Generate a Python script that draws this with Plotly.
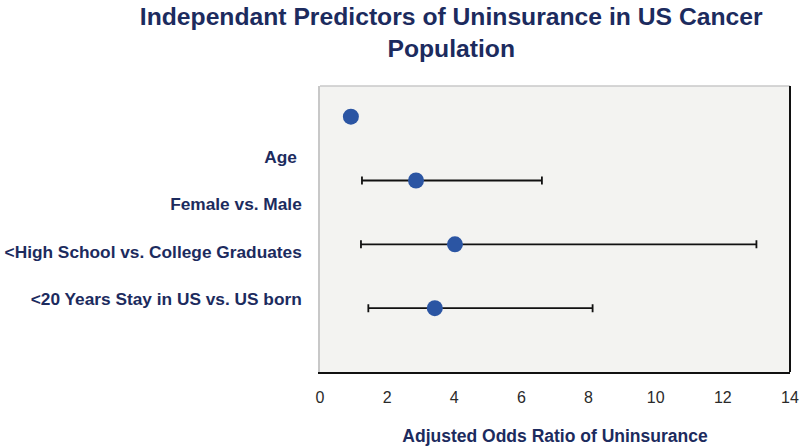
import plotly.graph_objects as go

# ---- data ----
categories = ["Age\u00a0", "Female vs. Male", "<High School vs. College Graduates",
              "<20 Years Stay in US vs. US born"]
odds_ratio = [0.92, 2.86, 4.02, 3.42]
ci_lower = [0.92, 1.25, 1.22, 1.44]
ci_upper = [0.92, 6.61, 13.0, 8.12]
x_ticks = [0, 2, 4, 6, 8, 10, 12, 14]

NAVY = "#1c2b5e"
BLUE = "#2b55a3"
FONT = "Liberation Sans, Arial, Helvetica, sans-serif"

positions = list(range(len(categories)))
# category labels sit on their own evenly spaced rows (as in the original figure)
LABEL_OFFSET, LABEL_STEP = 0.63, 0.742
label_positions = [LABEL_OFFSET + LABEL_STEP * i for i in positions]

err_plus = [u - e for u, e in zip(ci_upper, odds_ratio)]
err_minus = [e - l for e, l in zip(odds_ratio, ci_lower)]

fig = go.Figure()
fig.add_trace(go.Scatter(
    x=odds_ratio, y=positions, mode="markers",
    marker=dict(size=16, color=BLUE),
    error_x=dict(type="data", array=err_plus, arrayminus=err_minus,
                 color="#111111", thickness=1.8, width=4, symmetric=False),
    showlegend=False, hoverinfo="x",
))

fig.update_layout(
    width=800, height=446,
    margin=dict(l=320, r=10, t=86, b=74, autoexpand=False),
    paper_bgcolor="white",
    plot_bgcolor="#f3f3f1",
    font=dict(family=FONT),
    title=dict(
        text="Independant Predictors of Uninsurance in US Cancer<br>Population",
        x=0.564, xref="container", xanchor="center",
        y=0.945, yref="container", yanchor="middle",
        font=dict(size=24.7, color=NAVY, weight="bold"),
    ),
    xaxis=dict(
        range=[0, 14], tickvals=x_ticks, ticktext=[str(v) for v in x_ticks],
        showgrid=False, zeroline=False, automargin=False,
        showline=True, linecolor="#111111", linewidth=2,
        ticks="", ticklabelstandoff=10, ticklabeloverflow="allow",
        tickfont=dict(size=16, color="#2a2a2a"),
        title=dict(text="Adjusted Odds Ratio of Uninsurance", standoff=28,
                   font=dict(size=17.5, color=NAVY, weight="bold")),
    ),
    yaxis=dict(
        range=[4.0, -0.48], tickvals=label_positions, ticktext=categories,
        showgrid=False, zeroline=False, automargin=False,
        showline=True, linecolor="#c8c8c8", linewidth=1.5,
        ticks="", ticklabelstandoff=13,
        tickfont=dict(size=17.3, color=NAVY, weight="bold"),
    ),
    shapes=[
        dict(type="line", xref="paper", yref="paper", x0=0, x1=1, y0=1, y1=1,
             line=dict(color="#c8c8c8", width=1.5)),
        dict(type="line", xref="paper", yref="paper", x0=1, x1=1, y0=0, y1=1,
             line=dict(color="#111111", width=2)),
    ],
)

# remove the browser's default 8px body margin so the figure fills the window exactly
fig.write_html("out.html",
               config={"displayModeBar": False},
               post_script="document.body.style.margin='0';document.body.style.overflow='hidden';")
